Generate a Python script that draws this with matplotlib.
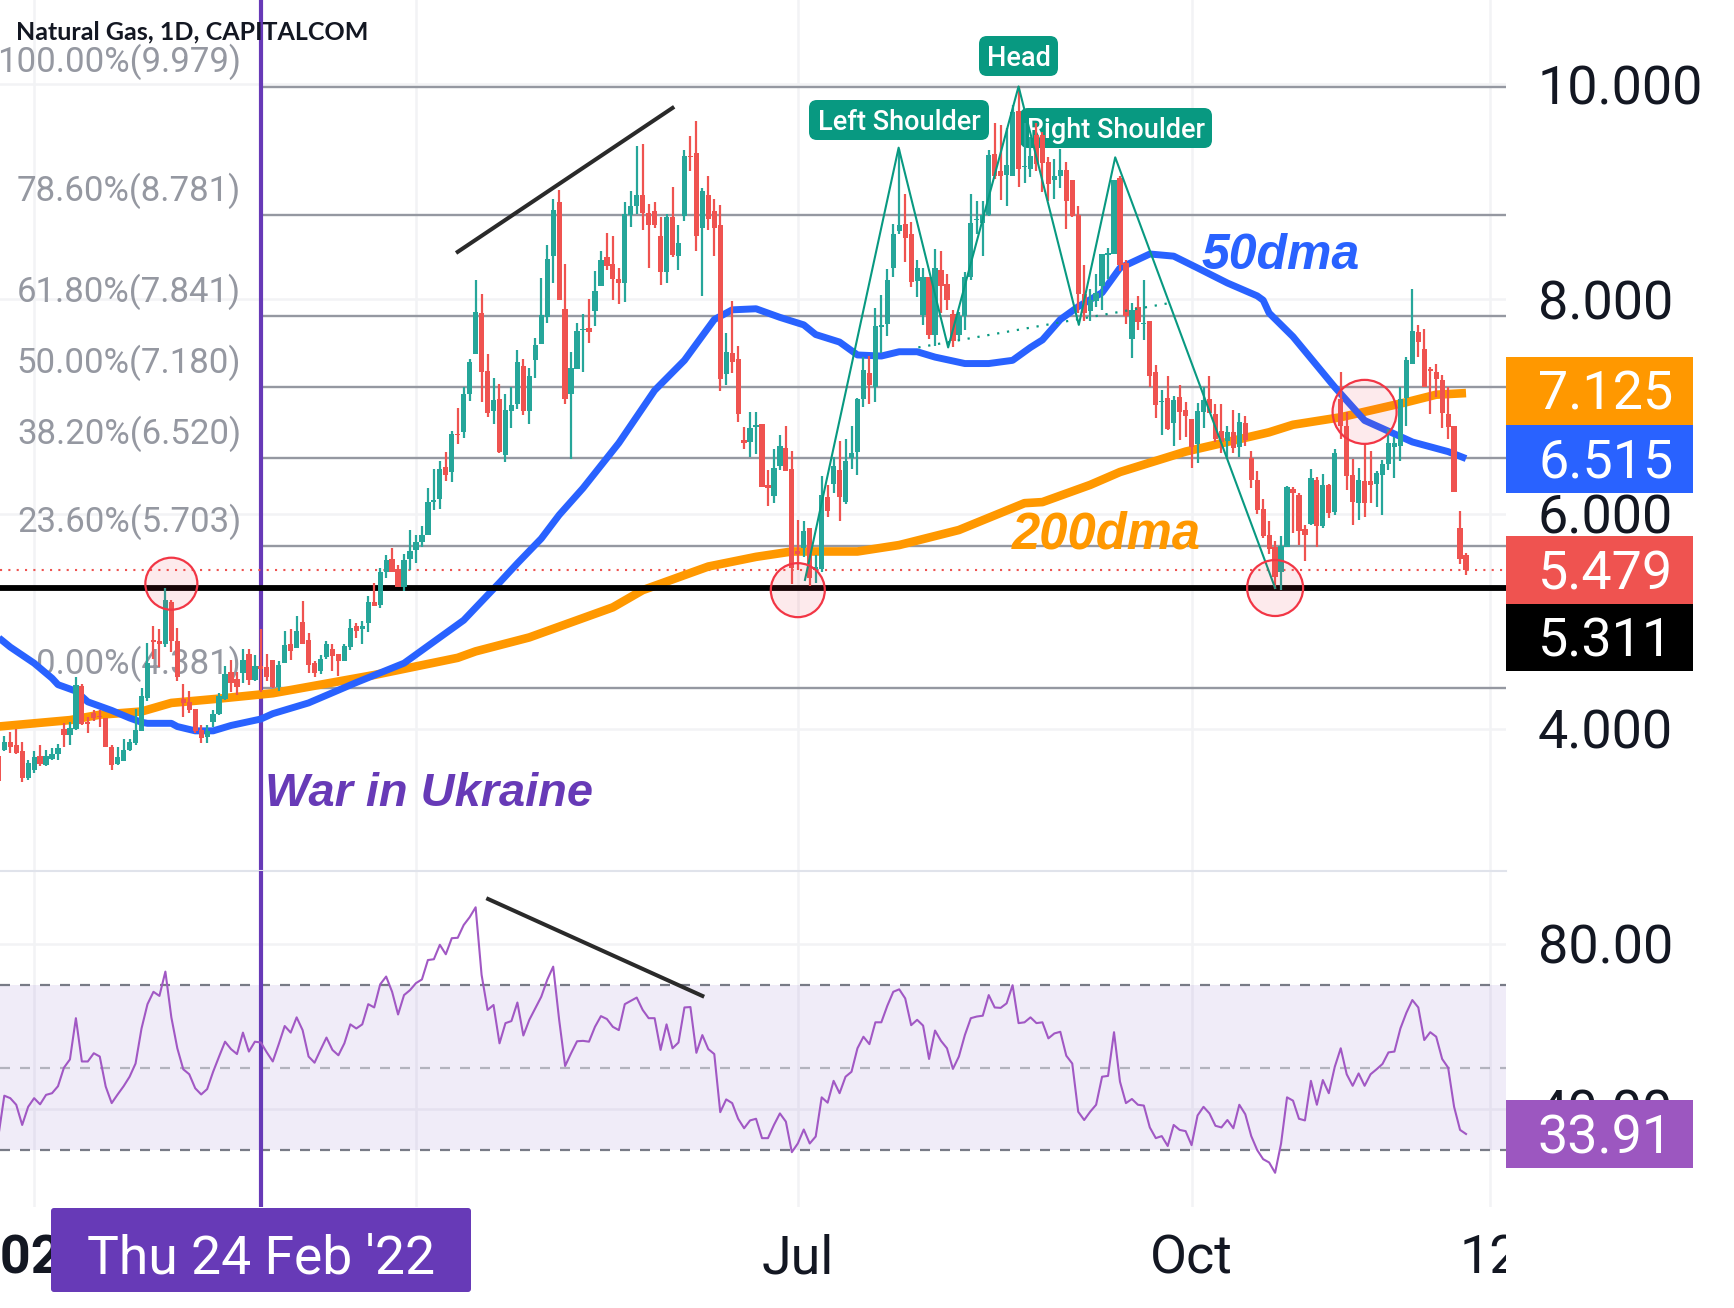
import matplotlib
matplotlib.use("Agg")
import matplotlib.pyplot as plt
import numpy as np
from matplotlib.patches import Ellipse, FancyBboxPatch, Rectangle
from matplotlib.transforms import Affine2D

plt.rcParams['font.family'] = ['Roboto', 'DejaVu Sans']

# daily candles, first one is cut by the left edge
opens = [3.75,
    3.80,3.88,3.85,3.79,3.54,3.62,3.75,3.66,3.72,3.76,
    4.00,3.94,4.00,4.40,4.06,4.15,4.12,4.10,3.83,3.67,
    3.70,3.80,3.87,3.98,4.29,4.83,4.82,4.79,5.18,4.82,
    4.28,4.25,4.18,3.99,3.92,4.06,4.14,4.28,4.53,4.46,
    4.52,4.70,4.45,4.58,4.57,4.64,4.39,4.61,4.79,4.75,
    4.99,4.83,4.61,4.54,4.67,4.74,4.70,4.63,4.76,4.96,
    4.93,4.98,5.18,5.15,5.46,5.58,5.49,5.32,5.58,5.66,
    5.74,5.80,6.11,6.14,6.44,6.39,6.74,6.76,7.12,7.49,
    7.87,7.33,6.96,7.07,6.55,6.96,7.02,7.38,6.96,7.43,
    7.58,7.83,8.40,8.90,7.91,7.12,7.35,7.71,7.73,7.89,
    8.12,8.39,8.33,8.19,8.15,8.78,8.87,8.97,8.80,8.82,
    8.59,8.25,8.76,8.40,8.77,9.33,9.36,8.66,8.97,8.82,
    8.69,7.30,7.50,7.44,6.69,6.67,6.81,6.84,6.27,6.17,
    6.45,6.61,6.42,5.65,5.68,5.87,5.48,5.49,6.16,6.28,
    6.41,6.11,6.52,6.58,7.07,7.31,7.18,7.74,7.77,8.29,
    8.63,8.70,8.61,8.17,7.85,8.21,7.67,8.27,8.14,7.86,
    7.67,7.84,8.21,8.74,8.71,8.78,9.35,9.19,9.16,9.15,
    9.75,9.23,9.21,9.53,9.53,9.28,9.11,9.15,9.20,9.11,
    8.78,8.05,7.89,7.98,8.12,8.41,8.42,9.13,8.34,7.63,
    7.93,7.77,7.80,7.32,7.04,7.08,6.85,7.09,6.97,6.88,
    6.65,6.95,7.07,6.93,6.77,6.68,6.76,6.62,6.85,6.52,
    6.32,6.05,5.80,5.69,5.46,5.69,6.23,6.18,5.86,5.91,
    6.32,5.89,6.27,6.02,7.07,6.82,6.36,6.10,6.31,6.31,
    6.28,6.36,6.46,6.62,6.63,7.08,7.40,7.69,7.54,7.35,
    7.32,7.25,6.93,6.82,5.87,5.62]
closes = [3.51,
    3.88,3.83,3.77,3.54,3.68,3.74,3.67,3.75,3.76,3.82,
    3.94,4.01,4.41,4.04,4.04,4.10,4.11,3.83,3.66,3.74,
    3.80,3.88,3.99,4.30,4.61,4.81,4.79,5.20,4.82,4.48,
    4.24,4.17,3.98,3.91,3.98,4.14,4.30,4.51,4.43,4.39,
    4.64,4.45,4.58,4.56,4.48,4.39,4.59,4.78,4.72,4.91,
    4.79,4.59,4.52,4.65,4.79,4.68,4.63,4.77,4.94,4.91,
    4.96,5.18,5.14,5.46,5.57,5.46,5.32,5.57,5.65,5.74,
    5.80,6.11,6.13,6.42,6.36,6.74,6.73,7.12,7.41,7.88,
    7.32,6.94,7.06,6.58,6.97,7.01,7.41,6.96,7.28,7.57,
    7.85,8.37,8.83,7.99,7.07,7.36,7.70,7.72,7.69,8.08,
    8.36,8.31,8.19,8.15,8.79,8.87,8.97,8.80,8.69,8.69,
    8.25,8.76,8.41,8.52,9.33,9.32,8.59,9.01,8.75,8.66,
    7.26,7.51,7.41,6.93,6.66,6.80,6.83,6.25,6.24,6.43,
    6.63,6.40,5.50,5.63,5.84,5.40,5.51,6.18,6.03,6.45,
    6.16,6.49,6.57,7.07,7.34,7.20,7.75,7.76,8.18,8.61,
    8.69,8.57,8.16,8.29,8.21,7.67,8.29,8.12,7.99,7.61,
    7.84,8.21,8.71,8.75,8.78,9.34,9.15,9.15,9.25,9.74,
    9.21,9.24,9.33,9.26,9.27,9.07,9.15,9.20,8.91,8.77,
    8.05,7.87,7.99,8.06,8.42,8.43,9.11,8.32,7.84,7.90,
    7.79,7.78,7.28,7.01,7.05,6.79,7.06,6.95,6.91,6.62,
    6.96,7.06,6.94,6.70,6.67,6.76,6.61,6.86,6.69,6.32,
    6.04,5.79,5.67,5.41,5.70,6.25,6.19,5.84,5.80,6.33,
    5.89,6.27,6.01,6.57,6.82,6.35,6.11,6.32,6.10,6.27,
    6.38,6.46,6.66,6.66,7.07,7.43,7.70,7.60,7.18,7.33,
    7.26,6.94,6.81,6.20,5.58,5.479]
highs = [3.75,
    3.93,3.97,4.00,3.88,3.71,3.79,3.85,3.80,3.82,3.86,
    4.05,4.06,4.48,4.42,4.11,4.17,4.17,4.10,3.85,3.83,
    3.90,3.90,4.18,4.38,4.80,4.96,4.93,5.31,5.20,4.94,
    4.42,4.35,4.18,4.03,4.03,4.17,4.33,4.58,4.64,4.53,
    4.74,4.74,4.69,4.93,4.70,4.64,4.63,4.91,4.93,5.05,
    5.19,4.89,4.63,4.69,4.82,4.79,4.70,4.79,5.02,4.98,
    5.00,5.24,5.36,5.50,5.62,5.68,5.52,5.63,5.85,5.80,
    5.89,6.24,6.42,6.49,6.58,6.77,6.99,7.18,7.44,8.18,
    8.05,7.49,7.27,7.21,7.12,7.18,7.53,7.44,7.36,7.64,
    8.20,8.50,8.93,9.02,8.33,7.51,7.78,7.86,8.00,8.26,
    8.45,8.62,8.59,8.29,8.90,9.01,9.43,9.44,8.89,8.90,
    8.76,8.79,9.04,8.69,9.39,9.52,9.66,9.03,9.15,8.93,
    8.88,7.68,7.98,7.56,6.81,6.95,6.95,6.84,6.41,6.60,
    6.73,6.82,6.59,5.94,5.93,5.87,5.62,6.35,6.27,6.53,
    6.68,6.70,6.82,7.08,7.46,7.47,7.92,8.04,8.28,8.70,
    9.40,8.98,8.72,8.36,8.29,8.21,8.47,8.45,8.23,7.90,
    7.88,8.25,8.98,8.91,8.91,9.39,9.64,9.62,9.59,9.81,
    9.98,9.64,9.51,9.64,9.56,9.32,9.30,9.40,9.28,9.11,
    8.87,8.32,8.09,8.23,8.42,8.48,9.11,9.15,8.36,7.96,
    8.03,8.18,7.80,7.39,7.15,7.28,7.10,7.20,7.04,6.88,
    7.03,7.18,7.28,7.02,7.02,6.82,6.97,6.94,6.91,6.59,
    6.40,6.14,5.93,5.75,5.79,6.26,6.25,6.19,5.90,6.42,
    6.34,6.37,6.28,6.60,7.32,6.95,6.51,6.43,6.66,6.59,
    6.40,6.50,6.79,6.72,7.18,7.46,8.09,7.76,7.72,7.37,
    7.40,7.29,7.18,6.82,6.03,5.64]
lows = [3.51,
    3.79,3.77,3.76,3.50,3.52,3.59,3.65,3.65,3.71,3.71,
    3.83,3.85,3.99,4.03,3.96,4.07,4.02,3.83,3.62,3.66,
    3.70,3.79,3.85,3.98,4.26,4.65,4.57,4.76,4.71,4.44,
    4.11,4.15,3.96,3.87,3.87,4.02,4.13,4.27,4.34,4.31,
    4.43,4.41,4.44,4.34,4.44,4.38,4.35,4.61,4.64,4.75,
    4.79,4.52,4.48,4.51,4.65,4.54,4.49,4.63,4.73,4.84,
    4.79,4.90,5.14,5.12,5.40,5.46,5.32,5.28,5.48,5.54,
    5.69,5.80,6.04,6.05,6.31,6.30,6.65,6.71,7.05,7.49,
    7.04,6.90,6.84,6.57,6.48,6.80,6.98,6.92,6.84,7.27,
    7.58,7.78,8.15,7.99,7.02,6.51,7.35,7.32,7.59,7.75,
    8.12,8.27,7.99,7.95,7.97,8.67,8.79,8.64,8.29,8.66,
    8.13,8.15,8.39,8.27,8.73,9.19,8.45,8.03,8.64,8.40,
    7.14,7.20,7.31,6.86,6.60,6.53,6.56,6.25,6.07,6.10,
    6.41,6.40,5.35,5.48,5.60,5.33,5.36,5.46,5.97,6.19,
    5.93,6.09,6.42,6.36,7.00,7.02,7.04,7.50,7.66,8.21,
    8.61,8.35,8.11,8.02,7.76,7.63,7.56,7.87,7.90,7.55,
    7.61,7.71,8.18,8.61,8.40,8.77,9.12,8.92,8.87,9.15,
    9.04,9.08,9.14,9.19,9.00,8.91,8.93,9.03,8.65,8.76,
    7.87,7.80,7.80,7.93,7.90,8.19,8.42,8.26,7.77,7.45,
    7.71,7.62,7.18,6.89,6.73,6.78,6.63,6.69,6.72,6.43,
    6.47,6.80,6.94,6.67,6.57,6.53,6.57,6.53,6.63,6.24,
    6.00,5.78,5.63,5.30,5.29,5.69,5.82,5.71,5.56,5.90,
    5.69,5.87,5.96,5.99,6.70,6.22,5.90,5.94,5.97,6.10,
    6.06,5.99,6.41,6.33,6.49,6.82,7.40,7.46,7.18,6.93,
    7.09,6.80,6.70,6.20,5.53,5.43]

rsi = [33.3,
    43.2,42.6,41.0,36.1,40.5,42.6,41.1,43.4,43.8,45.5,
    50.0,52.0,62.0,51.5,51.5,53.5,52.7,45.4,41.4,43.5,
    45.5,47.8,51.0,59.5,65.4,68.4,67.4,73.3,62.2,54.7,
    49.6,48.4,45.0,43.5,44.8,49.0,52.7,56.3,54.5,53.3,
    58.5,53.9,56.3,56.1,53.7,51.5,55.7,60.1,58.5,62.2,
    59.1,52.7,51.2,54.3,57.3,54.3,53.0,55.9,60.5,59.5,
    60.5,65.4,64.6,70.2,72.1,68.4,62.9,67.6,68.8,70.5,
    71.4,76.1,76.3,79.8,77.5,81.4,81.5,84.6,86.5,88.9,
    72.5,64.0,65.2,55.9,60.8,61.3,65.8,57.8,61.6,64.4,
    67.2,71.3,74.5,61.6,50.4,53.5,56.4,56.5,56.3,59.9,
    62.5,61.8,59.9,59.1,65.4,66.2,67.0,64.0,62.0,62.0,
    54.3,60.5,54.7,56.1,64.6,64.7,53.6,57.9,54.5,53.3,
    39.2,42.3,41.4,37.6,35.3,37.2,37.6,32.9,32.9,36.1,
    38.9,36.9,29.5,31.6,35.0,31.6,33.3,42.8,41.5,46.8,
    43.8,47.8,49.0,54.7,57.5,55.7,61.0,61.0,65.0,68.4,
    69.0,66.8,60.3,61.6,60.2,52.1,59.0,56.5,54.7,49.7,
    52.7,57.9,62.0,62.4,62.6,67.6,64.6,64.5,65.6,70.0,
    60.8,61.0,62.2,60.8,61.0,57.1,58.3,58.7,52.9,51.0,
    39.3,37.3,39.3,41.0,47.8,48.0,58.6,46.6,41.4,42.4,
    41.0,40.8,35.5,32.9,33.4,31.0,36.1,34.9,34.6,31.2,
    38.4,40.5,38.9,35.9,35.5,37.3,35.3,41.0,38.7,33.4,
    30.0,27.8,27.0,24.5,31.6,42.8,42.0,37.6,37.2,46.8,
    41.0,47.0,43.8,50.2,54.7,48.4,45.6,48.6,45.6,48.4,
    49.6,50.9,53.7,53.9,59.5,63.3,66.4,64.6,56.7,58.6,
    57.5,52.1,50.0,40.5,34.9,33.91]

ma50_idx = [-1,1,5,8,9,12,14,18,21,23,24,28,29,32,35,38,43,45,51,59,67,77,83,86,90,93,97,103,109,114,119,122,126,130,134,136,140,143,147,150,153,156,161,165,169,172,174,177,180,184,187,192,196,200,205,210,211,212,216,223,228,236,242,245]
ma50 = [4.85,4.76,4.61,4.47,4.41,4.35,4.25,4.17,4.10,4.06,4.05,4.05,4.02,3.98,3.98,4.03,4.09,4.14,4.24,4.43,4.61,5.01,5.36,5.54,5.77,5.99,6.24,6.66,7.15,7.43,7.81,7.90,7.91,7.83,7.76,7.67,7.60,7.48,7.47,7.51,7.51,7.46,7.40,7.40,7.43,7.55,7.62,7.81,7.93,8.06,8.29,8.42,8.40,8.29,8.15,8.03,7.99,7.87,7.65,7.18,6.87,6.67,6.58,6.515]
ma200_idx = [-1,11,16,23,28,36,45,62,76,79,88,102,107,118,126,132,143,150,160,171,174,182,187,198,205,212,216,224,235,240,245]
ma200 = [4.02,4.08,4.13,4.16,4.24,4.28,4.33,4.50,4.66,4.72,4.85,5.13,5.29,5.51,5.60,5.65,5.65,5.71,5.85,6.10,6.11,6.27,6.39,6.58,6.67,6.76,6.83,6.90,7.04,7.11,7.125]

fib_levels = [9.979, 8.781, 7.841, 7.180, 6.520, 5.703, 4.381]
fib_labels = ["100.00%(9.979)", "78.60%(8.781)", "61.80%(7.841)", "50.00%(7.180)",
              "38.20%(6.520)", "23.60%(5.703)", "0.00%(4.381)"]
hs_idx = [134.2, 149.9, 158.2, 170, 180.1, 186.2, 213]
hs_val = [5.385, 9.41, 7.55, 9.98, 7.76, 9.32, 5.31]
time_idx = [5, 69, 133, 199, 249]
time_labels = ["2022", "Apr", "Jul", "Oct", "12"]
war_idx = 43
support = 5.311
last_price = 5.479

GREEN = "#26a69a"
RED = "#ef5350"
TEAL = "#089981"
PURPLE = "#673ab7"
GRID = "#f2f3f5"
DARK = "#131722"
GRAY = "#9598a1"
LABEL_SIZE = 38.8

W, H = 1734, 1308
fig = plt.figure(figsize=(W / 100, H / 100), dpi=100, facecolor="white")
px = Affine2D().scale(1 / W, -1 / H).translate(0, 1) + fig.transFigure

RIGHT = 1506
X_MIN, X_MAX = -0.72, 251.7
ax = fig.add_axes([0, 1 - 871 / H, RIGHT / W, 871 / H])
ax_rsi = fig.add_axes([0, 1 - 1207 / H, RIGHT / W, 336 / H])
ax_time = fig.add_axes([0, 0, RIGHT / W, 1 - 1207 / H])

idx = np.arange(len(opens)) - 1
o, c, hi, lo = map(np.array, (opens, closes, highs, lows))
colors = [GREEN if c[i] >= o[i] else RED for i in range(len(o))]

# price pane
ax.set_xlim(X_MIN, X_MAX)
ax.set_ylim(2.675, 10.785)
ax.set_xticks(time_idx)
ax.set_yticks([4, 6, 8, 10])
ax.set_yticklabels(["4.000", "6.000", "8.000", "10.000"])
ax.yaxis.tick_right()
ax.tick_params(axis="y", length=0, pad=23, labelsize=LABEL_SIZE, labelcolor=DARK)
ax.tick_params(axis="x", length=0, labelbottom=False)
ax.grid(True, color=GRID, lw=1.8, zorder=0)
ax.set_axisbelow(True)
for s in ax.spines.values():
    s.set_visible(False)

for lvl, lab in zip(fib_levels, fib_labels):
    ax.hlines(lvl, war_idx, X_MAX, color=GRAY, lw=1.7, zorder=1)
    ax.annotate(lab, (39.7, lvl), xytext=(0, 17.5), textcoords="offset points",
                ha="right", va="center", fontsize=25, color=GRAY, zorder=1.5)

ax.axvline(war_idx, color=PURPLE, lw=3, zorder=2)
ax.axhline(last_price, color=RED, lw=1.5, ls=(0, (1, 3)), zorder=2)

ax.plot(ma200_idx, ma200, color="#ff9800", lw=6.2, zorder=2.5, solid_capstyle="butt", solid_joinstyle="round")
ax.plot(ma50_idx, ma50, color="#2962ff", lw=5, zorder=2.6, solid_capstyle="butt", solid_joinstyle="round")
ax.axhline(support, color="black", lw=4.2, zorder=2.7)


def tag(x0, y0, x1, y1, text):
    ax.add_patch(FancyBboxPatch((x0 + 8, y0 + 8), x1 - x0 - 16, y1 - y0 - 16,
                                boxstyle="round,pad=8,rounding_size=8", fc=TEAL, ec="none",
                                transform=px, zorder=2.8, clip_on=False))
    ax.text((x0 + x1) / 2, (y0 + y1) / 2, text, transform=px, ha="center", va="center_baseline",
            color="white", fontsize=19.5, fontweight="medium", zorder=2.9)


tag(809, 100, 989, 140, "Left Shoulder")
tag(979, 36, 1058, 76, "Head")
tag(1020, 108, 1212, 148, "Right Shoulder")

# candles
ax.vlines(idx, lo, hi, color=colors, lw=1.6, zorder=4)
ax.bar(idx, np.abs(c - o), bottom=np.minimum(o, c), width=0.88, color=colors, linewidth=0, zorder=4.1)

# head and shoulders pattern and drawings
ax.plot(hs_idx, hs_val, color=TEAL, lw=1.5, zorder=5)
ax.plot([153.2, 195], [7.55, 7.96], color=TEAL, lw=1.6, ls=(0, (1, 3.5)), zorder=5)
ax.plot([76, 112], [8.44, 9.78], color="#2a2a2a", lw=2.9, zorder=5)

for cx, cy, r in [(28, 5.35, 26), (133, 5.29, 27), (213, 5.31, 28), (228, 6.95, 32)]:
    ax.add_patch(Ellipse((cx, cy), 2 * r / 5.966, 2 * r / 107.4, fc=(0.949, 0.212, 0.271, 0.1),
                         ec="#f23645", lw=1.6, zorder=6))

BOLD_ITALIC = ["Liberation Sans", "DejaVu Sans"]
ax.text(265, 794, "War in Ukraine", transform=px, color=PURPLE, fontsize=33.8, fontweight="bold",
        fontstyle="italic", va="center", family=BOLD_ITALIC, zorder=7)
ax.text(1202, 256, "50dma", transform=px, color="#2962ff", fontsize=36, fontweight="bold",
        fontstyle="italic", va="center", family=BOLD_ITALIC, zorder=7)
ax.text(1012, 535, "200dma", transform=px, color="#ff9800", fontsize=36.5, fontweight="bold",
        fontstyle="italic", va="center", family=BOLD_ITALIC, zorder=7)

# rsi pane
ax_rsi.set_xlim(X_MIN, X_MAX)
ax_rsi.set_ylim(16.2, 97.7)
ax_rsi.set_xticks(time_idx)
ax_rsi.set_yticks([40, 80])
ax_rsi.set_yticklabels(["40.00", "80.00"])
ax_rsi.yaxis.tick_right()
ax_rsi.tick_params(axis="y", length=0, pad=23, labelsize=LABEL_SIZE, labelcolor=DARK)
ax_rsi.tick_params(axis="x", length=0, labelbottom=False)
ax_rsi.grid(True, color=GRID, lw=1.8, zorder=0)
ax_rsi.set_axisbelow(True)
for s in ax_rsi.spines.values():
    s.set_visible(False)
ax_rsi.spines["top"].set_visible(True)
ax_rsi.spines["top"].set_color("#e0e3eb")
ax_rsi.spines["top"].set_linewidth(1.5)

ax_rsi.axhspan(30, 70, color="#7e57c2", alpha=0.11, lw=0, zorder=1)
ax_rsi.axhline(70, color="#787b86", lw=1.6, ls=(0, (4.5, 4.5)), zorder=2)
ax_rsi.axhline(50, color="#787b86", lw=1.6, ls=(0, (4.5, 4.5)), alpha=0.5, zorder=2)
ax_rsi.axhline(30, color="#787b86", lw=1.6, ls=(0, (4.5, 4.5)), zorder=2)
ax_rsi.axvline(war_idx, color=PURPLE, lw=3, zorder=3)
ax_rsi.plot(idx, rsi, color="#a158c4", lw=1.5, zorder=4)
ax_rsi.plot([81.1, 117], [90.9, 67.4], color="#2a2a2a", lw=2.9, zorder=5)

# time axis
ax_time.set_xlim(X_MIN, X_MAX)
ax_time.set_ylim(0, 1)
ax_time.axis("off")
for t, lab in zip(time_idx, time_labels):
    is_year = lab == "2022"
    ax_time.text(t - 0.6 if is_year else t, 0.49, lab, ha="center", va="center", fontsize=LABEL_SIZE, color=DARK,
                 clip_on=True, fontweight="bold" if is_year else "normal")

# price tags on the right and the date flag
for y0, y1, col, txt in [(357, 425, "#ff9800", "7.125"), (425, 493, "#2962ff", "6.515"),
                         (536, 604, RED, "5.479"), (604, 671, "black", "5.311"),
                         (1100, 1168, "#9c57c0", "33.91")]:
    fig.add_artist(Rectangle((RIGHT, y0), 1693 - RIGHT, y1 - y0, fc=col, ec="none", transform=px))
    fig.text(1538, (y0 + y1) / 2 - 1, txt, transform=px, ha="left", va="center_baseline", color="white",
             fontsize=LABEL_SIZE, zorder=5)

fig.add_artist(FancyBboxPatch((54, 1211), 414, 78, boxstyle="round,pad=3,rounding_size=3", fc=PURPLE,
                              ec="none", transform=px))
fig.text(261, 1253, "Thu 24 Feb '22", transform=px, ha="center", va="center_baseline", color="white",
         fontsize=38.5, zorder=5)

fig.text(16, 32, "Natural Gas, 1D, CAPITALCOM", transform=px, ha="left", va="center", color=DARK,
         fontsize=18, fontweight="bold", family=["Lato", "DejaVu Sans"], zorder=5)

fig.savefig("out.png", dpi=100)
